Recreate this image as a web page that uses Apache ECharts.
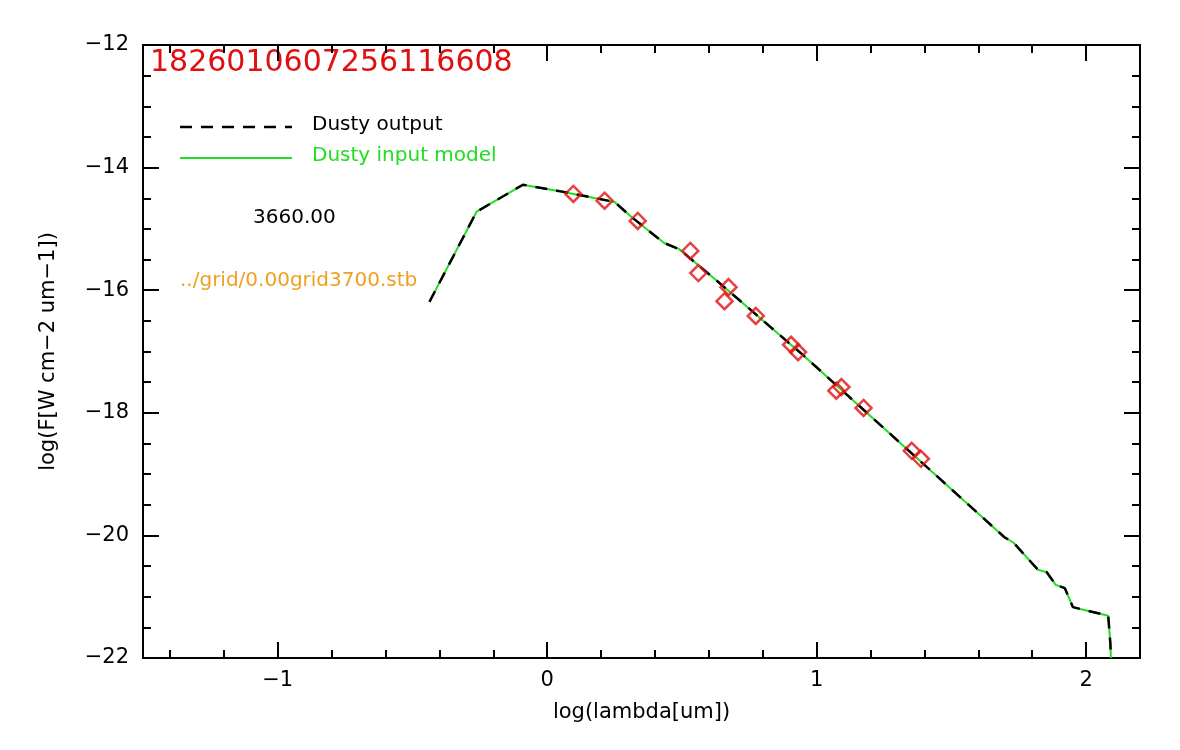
<!DOCTYPE html>
<html><head><meta charset="utf-8">
<script src="https://cdn.jsdelivr.net/npm/echarts@6/dist/echarts.min.js"></script>
<style>html,body{margin:0;padding:0;background:#fff}#c{width:1180px;height:750px}</style>
</head><body><div id="c"></div>
<script>
var modelX = [-0.437,-0.262,-0.090,0.041,0.250,0.314,0.434,0.490,0.636,0.950,1.697,1.731,1.821,1.854,1.888,1.921,1.951,1.978,2.082,2.090,2.092];
var modelY = [-16.19,-14.72,-14.28,-14.38,-14.56,-14.81,-15.23,-15.33,-15.87,-17.06,-20.03,-20.12,-20.56,-20.60,-20.81,-20.86,-21.17,-21.20,-21.31,-21.76,-22.0];
var obsX = [0.097,0.213,0.336,0.531,0.561,0.673,0.658,0.774,0.905,0.931,1.073,1.092,1.174,1.353,1.387];
var obsY = [-14.43,-14.54,-14.87,-15.36,-15.72,-15.95,-16.18,-16.42,-16.89,-17.01,-17.64,-17.58,-17.92,-18.62,-18.75];
var xMajor = [-1,0,1,2];
var yMajor = [-22,-20,-18,-16,-14,-12];
var xMinor = [], yMinor = [];
for (var i=-14;i<=22;i+=2) xMinor.push(i/10);
for (var j=-44;j<=-24;j+=1) yMinor.push(j/2);
var titleText = '1826010607256116608';
var legendLabels = ['Dusty output','Dusty input model'];
var tempText = '3660.00';
var fileText = '../grid/0.00grid3700.stb';

function lab(v){ return (v<0?'\u2212':'') + Math.abs(v); }
var F = 'DejaVu Sans';
function xa(pos, vals, len, show, name){
  return {type:'value', min:-1.5, max:2.2, position:pos,
    axisLine:{show:true, onZero:false, lineStyle:{color:'#000', width:2}},
    axisTick:{show:true, inside:true, length:len, customValues:vals, lineStyle:{color:'#000', width:2}},
    axisLabel:{show:show, customValues:vals, formatter:lab, color:'#000', fontFamily:F, fontSize:21, margin:12},
    splitLine:{show:false}, name:name||'', nameLocation:'middle', nameGap:44,
    nameTextStyle:{fontFamily:F, fontSize:21, color:'#000'}};
}
function ya(pos, vals, len, show, name){
  return {type:'value', min:-22, max:-12, position:pos,
    axisLine:{show:true, onZero:false, lineStyle:{color:'#000', width:2}},
    axisTick:{show:true, inside:true, length:len, customValues:vals, lineStyle:{color:'#000', width:2}},
    axisLabel:{show:show, customValues:vals, formatter:lab, color:'#000', fontFamily:F, fontSize:21, margin:14},
    splitLine:{show:false}, name:name||'', nameLocation:'middle', nameGap:84,
    nameTextStyle:{fontFamily:F, fontSize:21, color:'#000'}};
}
var line = modelX.map(function(x,i){return [x, modelY[i]];});
var pts = obsX.map(function(x,i){return [x, obsY[i]];});
var chart = echarts.init(document.getElementById('c'));
chart.setOption({
  animation:false,
  grid:{left:143, right:40, top:45, bottom:92},
  xAxis:[xa('bottom', xMajor, 16, true, 'log(lambda[um])'), xa('bottom', xMinor, 8, false),
         xa('top', xMajor, 16, false), xa('top', xMinor, 8, false)],
  yAxis:[ya('left', yMajor, 16, true, 'log(F[W cm\u22122 um\u22121])'), ya('left', yMinor, 8, false),
         ya('right', yMajor, 16, false), ya('right', yMinor, 8, false)],
  series:[
    {type:'line', data:line, symbol:'none', lineStyle:{color:'#22dd22', width:2}, z:2},
    {type:'line', data:line, symbol:'none', lineStyle:{color:'#000', width:2.5, type:[12,9]}, z:3},
    {type:'scatter', data:pts, symbol:'diamond', symbolSize:[16,16],
      itemStyle:{color:'rgba(0,0,0,0)', borderColor:'#e01010', borderWidth:2.5}, z:4}
  ],
  graphic:[
    {type:'text', left:150, top:48, style:{text:titleText, fill:'#e01010', font:'30px "DejaVu Sans"'}},
    {type:'line', shape:{x1:180,y1:127,x2:292,y2:127}, style:{stroke:'#000', lineWidth:2.5, lineDash:[12,9]}},
    {type:'line', shape:{x1:180,y1:158,x2:292,y2:158}, style:{stroke:'#22dd22', lineWidth:2}},
    {type:'text', left:312, top:115, style:{text:legendLabels[0], fill:'#000', font:'20px "DejaVu Sans"'}},
    {type:'text', left:312, top:146, style:{text:legendLabels[1], fill:'#22dd22', font:'20px "DejaVu Sans"'}},
    {type:'text', left:253, top:208, style:{text:tempText, fill:'#000', font:'20px "DejaVu Sans"'}},
    {type:'text', left:180, top:271, style:{text:fileText, fill:'#f0a020', font:'20px "DejaVu Sans"'}}
  ]
});
</script></body></html>
